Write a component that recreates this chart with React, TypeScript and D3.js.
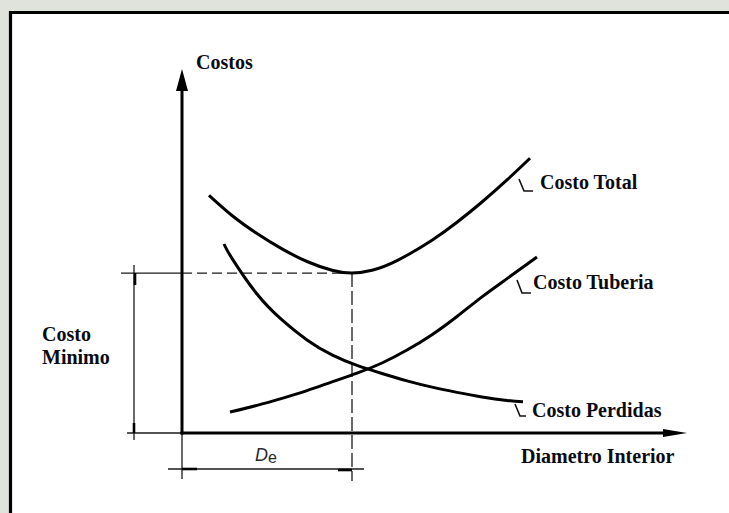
import React from "react";
import * as d3 from "d3";

// Diameter (x) and cost (y) in abstract units 0..100
const totalX = [5.4, 10, 15, 20, 25, 30, 34, 38, 43, 50, 55, 60, 65, 69.6];
const totalY = [67.9, 62.15, 57.0, 52.6, 49.0, 46.5, 45.7, 46.5, 49.25, 55.1, 60.2, 66.0, 72.3, 78.5];

const tuberiaX = [9.6, 15, 20, 25, 30, 35, 40, 45, 50, 55, 60, 65, 71];
const tuberiaY = [6, 7.9, 9.9, 12.1, 14.6, 17.1, 20, 23.7, 28.1, 33.3, 38.9, 44.1, 50.3];

const perdidasX = [8.4, 10, 15, 20, 25, 30, 35, 40, 45, 50, 55, 60, 65, 68.2];
const perdidasY = [54, 49.9, 39.7, 32.3, 26.6, 22.3, 19.3, 17, 14.9, 13.1, 11.6, 10.3, 9.3, 8.9];

const optimumDiameter = 34;
const minimumCost = 45.7;

const seriesNames = ["Costo Total", "Costo Tuberia", "Costo Perdidas"];
const yAxisLabel = "Costos";
const xAxisLabel = "Diametro Interior";
const minLabel = ["Costo", "Minimo"];

export default function App() {
  const W = 729;
  const H = 513;
  const x = d3.scaleLinear().domain([0, 100]).range([182, 682]);
  const y = d3.scaleLinear().domain([0, 100]).range([433, 83]);

  const line = d3
    .line<[number, number]>()
    .x((d) => x(d[0]))
    .y((d) => y(d[1]))
    .curve(d3.curveNatural);

  const series = [
    { name: seriesNames[0], pts: totalX.map((v, i) => [v, totalY[i]] as [number, number]) },
    { name: seriesNames[1], pts: tuberiaX.map((v, i) => [v, tuberiaY[i]] as [number, number]) },
    { name: seriesNames[2], pts: perdidasX.map((v, i) => [v, perdidasY[i]] as [number, number]) },
  ];

  const x0 = x(0);
  const y0 = y(0);
  const xDe = x(optimumDiameter);
  const yMin = y(minimumCost);
  const yTip = y(104);
  const xTip = x(101);

  const labels = [
    { text: seriesNames[0], lx: 540, ly: 189, hook: "M519,179 L524,191 L533,191" },
    { text: seriesNames[1], lx: 533, ly: 289, hook: "M517,280 L522,293 L531,293" },
    { text: seriesNames[2], lx: 532, ly: 417, hook: "M515,404 L520,416 L526,416" },
  ];

  const serif = "'Liberation Serif', 'Times New Roman', serif";
  const thin = "#1a1a1a";

  return (
    <svg
      width={W}
      height={H}
      style={{ position: "fixed", left: 0, top: 0, display: "block" }}
      xmlns="http://www.w3.org/2000/svg"
    >
      <rect x={0} y={0} width={W} height={H} fill="#dfe3dc" />
      <rect x={10.5} y={12.5} width={W} height={H} fill="#ffffff" />
      <line x1={10.5} y1={12.5} x2={W} y2={12.5} stroke="#000" strokeWidth={3.2} />
      <line x1={10.5} y1={11} x2={10.5} y2={H} stroke="#000" strokeWidth={3.2} />

      {/* dimension / helper lines */}
      <g stroke={thin} strokeWidth={1.3} fill="none">
        <line x1={121} y1={yMin} x2={x0} y2={yMin} />
        <line x1={x0} y1={yMin} x2={xDe} y2={yMin} strokeDasharray="10,5" />
        <line x1={xDe} y1={yMin} x2={xDe} y2={481} strokeDasharray="14,4" />
        <line x1={127} y1={y0} x2={x0} y2={y0} />
        <line x1={134} y1={265} x2={134} y2={440} />
        <line x1={x0} y1={y0} x2={x0} y2={479} />
        <line x1={168} y1={469} x2={364} y2={469} />
      </g>
      <g stroke="#000" strokeWidth={2.6}>
        <line x1={135} y1={yMin} x2={135} y2={285} />
        <line x1={134} y1={423} x2={134} y2={y0} />
        <line x1={x0} y1={469} x2={197} y2={469} />
        <line x1={338} y1={470} x2={xDe} y2={470} />
      </g>

      {/* axes */}
      <line x1={x0} y1={y0 + 1.5} x2={x0} y2={yTip + 20} stroke="#000" strokeWidth={3} />
      <polygon points={`${x0 - 6},${yTip + 22} ${x0},${yTip} ${x0 + 6},${yTip + 22}`} fill="#000" />
      <line x1={x0 - 1.5} y1={y0} x2={xTip - 22} y2={y0} stroke="#000" strokeWidth={3} />
      <polygon points={`${xTip - 24},${y0 - 4} ${xTip},${y0} ${xTip - 24},${y0 + 4}`} fill="#000" />

      {/* curves */}
      {series.map((s) => (
        <path key={s.name} d={line(s.pts) || ""} fill="none" stroke="#000" strokeWidth={3} strokeLinecap="butt" />
      ))}

      {/* labels */}
      {labels.map((l) => (
        <g key={l.text}>
          <path d={l.hook} fill="none" stroke="#111" strokeWidth={1.6} />
          <text x={l.lx} y={l.ly} fontFamily={serif} fontWeight="bold" fontSize={20} fill="#0b0b14">
            {l.text}
          </text>
        </g>
      ))}

      <text x={196} y={69} fontFamily={serif} fontWeight="bold" fontSize={20} fill="#0b0b14">
        {yAxisLabel}
      </text>
      <text x={521} y={463} fontFamily={serif} fontWeight="bold" fontSize={20} fill="#0b0b14">
        {xAxisLabel}
      </text>
      <text x={42} y={341} fontFamily={serif} fontWeight="bold" fontSize={20} fill="#0b0b14">
        {minLabel[0]}
      </text>
      <text x={42} y={364} fontFamily={serif} fontWeight="bold" fontSize={20} fill="#0b0b14">
        {minLabel[1]}
      </text>

      <text x={255} y={461} fontFamily="'Liberation Sans', Arial, sans-serif" fontSize={18} fill="#2a2a2a">
        <tspan fontStyle="italic">D</tspan>
        <tspan dy={2} fontSize={16}>e</tspan>
      </text>
    </svg>
  );
}
